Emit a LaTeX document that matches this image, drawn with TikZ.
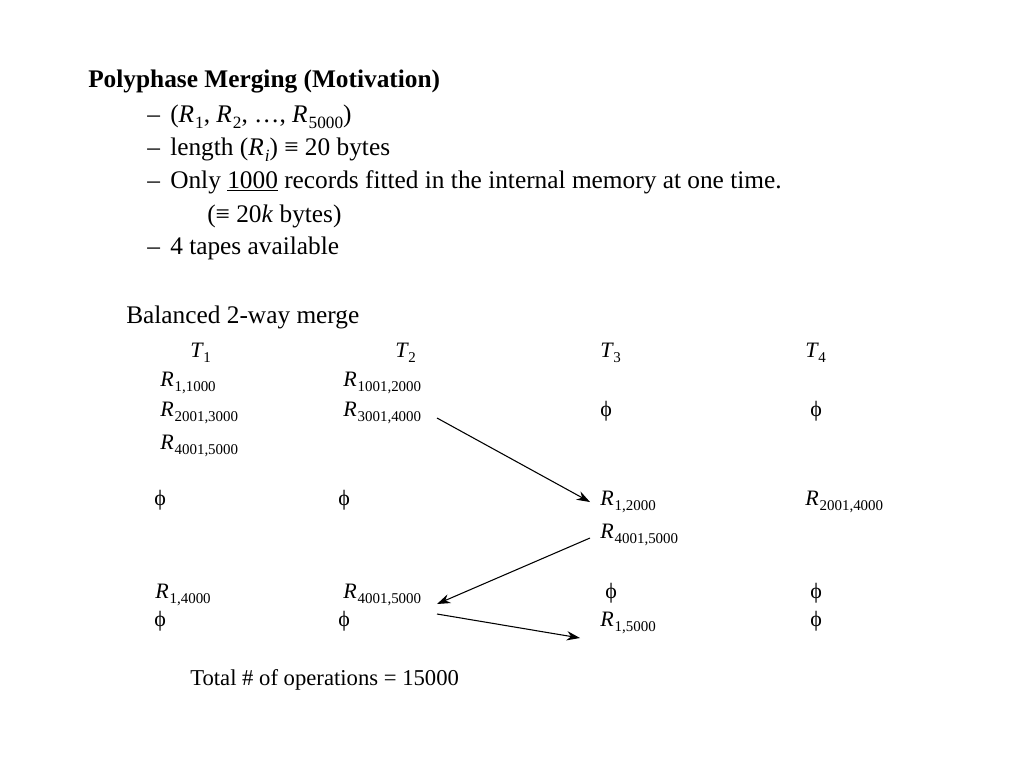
\documentclass[tikz,border=0pt]{standalone}
\usepackage{fontspec}
\setmainfont{Liberation Serif}
\usetikzlibrary{arrows.meta}
\newcommand\sbx[1]{\raisebox{-0.24em}{\scalebox{0.68}{#1}}}
\newcommand\Rx[1]{\textit{R}\kern0.04em\sbx{#1}}
\newcommand\Tx[1]{\textit{T}\kern-0.02em\sbx{#1}}
\newcommand\nul{ϕ}
\begin{document}
\begin{tikzpicture}[x=0.75pt,y=-0.75pt,
  txt/.style={anchor=base west, inner sep=0pt, font=\fontsize{19}{22}\selectfont},
  ttl/.style={txt, font=\fontsize{19}{22}\selectfont\bfseries},
  tab/.style={anchor=base west, inner sep=0pt, font=\fontsize{16.5}{19}\selectfont},
  arr/.style={-{Stealth[length=10pt,width=7pt]}, line width=0.8pt}]
\useasboundingbox (0,0) rectangle (1024,768);
\node[ttl] (title) at (88,87) {Polyphase Merging (Motivation)};
\node[txt] (d1) at (147,122) {–};
\node[txt] (d2) at (147,155) {–};
\node[txt] (d3) at (147,188) {–};
\node[txt] (d4) at (147,254) {–};
\node[txt] (b1) at (170,122) {(\Rx{1}, \Rx{2}, …, \Rx{5000})};
\node[txt] (b2) at (170,155) {length (\textit{R}\kern0.04em\sbx{\textit{i}}) ≡ 20 bytes};
\node[txt] (b3) at (170,188) {Only \underline{1000} records fitted in the internal memory at one time.};
\node[txt] (b3b) at (207,222) {(≡ 20\textit{k} bytes)};
\node[txt] (b4) at (170,254) {4 tapes available};
\node[txt] (bal) at (126,323) {Balanced 2-way merge};
\node[tab] (t1) at (190,357) {\Tx{1}};
\node[tab] (t2) at (395,357) {\Tx{2}};
\node[tab] (t3) at (600,357) {\Tx{3}};
\node[tab] (t4) at (805,357) {\Tx{4}};
% phase 0
\node[tab] (a11) at (160,386) {\Rx{1,1000}};
\node[tab] (a12) at (343,386) {\Rx{1001,2000}};
\node[tab] (a21) at (160,416) {\Rx{2001,3000}};
\node[tab] (a22) at (343,416) {\Rx{3001,4000}};
\node[tab] (a23) at (600,416) {\nul};
\node[tab] (a24) at (810,416) {\nul};
\node[tab] (a31) at (160,449) {\Rx{4001,5000}};
% phase 1
\node[tab] (b41) at (154,505) {\nul};
\node[tab] (b42) at (338,505) {\nul};
\node[tab] (b43) at (600,505) {\Rx{1,2000}};
\node[tab] (b44) at (805,505) {\Rx{2001,4000}};
\node[tab] (b53) at (600,538) {\Rx{4001,5000}};
% phase 2
\node[tab] (c61) at (155,598) {\Rx{1,4000}};
\node[tab] (c62) at (343,598) {\Rx{4001,5000}};
\node[tab] (c63) at (605,598) {\nul};
\node[tab] (c64) at (810,598) {\nul};
\node[tab] (c71) at (154,626) {\nul};
\node[tab] (c72) at (338,626) {\nul};
\node[tab] (c73) at (600,626) {\Rx{1,5000}};
\node[tab] (c74) at (810,626) {\nul};
\node[tab, font=\fontsize{17}{20}\selectfont] (total) at (190,685) {Total \# of operations = 15000};
% arrows
\draw[arr] ([shift={(94,2)}]a22.base west) -- ([shift={(-10,-3)}]b43.base west);
\draw[arr] ([shift={(-10,0)}]b53.base west) -- ([shift={(94,6)}]c62.base west);
\draw[arr] ([shift={(94,16)}]c62.base west) -- ([shift={(-20,12)}]c73.base west);
\end{tikzpicture}
\end{document}
